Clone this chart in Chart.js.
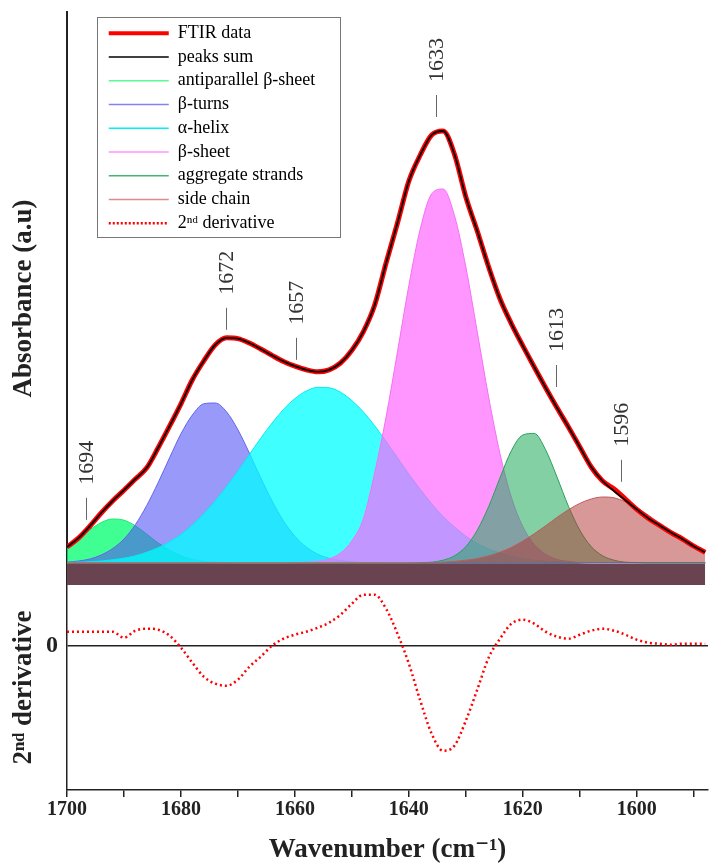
<!DOCTYPE html>
<html>
<head>
<meta charset="utf-8">
<script src="https://cdn.jsdelivr.net/npm/chart.js@4.4.1/dist/chart.umd.min.js"></script>
<style>
  body { margin: 0; background: #fff; }
  #wrap { position: relative; width: 718px; height: 868px; }
  #top { position: absolute; left: 0; top: 0; }
  #bottom { position: absolute; left: 0; top: 585px; }
</style>
</head>
<body>
<div id="wrap">
  <canvas id="top" width="718" height="585"></canvas>
  <canvas id="bottom" width="718" height="283"></canvas>
</div>
<script>
const serif = '"Liberation Serif", "DejaVu Serif", serif';
Chart.defaults.font.family = serif;
Chart.defaults.color = '#222';

// wavenumber grid (cm-1)
const wavenumbers = [1700,1698,1696,1694,1692,1690,1688,1686,1684,1682,1680,1678,1676,1674,1672,1670,1668,1666,1664,1662,
  1660,1658,1656,1654,1652,1650,1648,1646,1644,1642,1640,1638,1636,1634,1632,1630,1628,1626,1624,1622,
  1620,1618,1616,1614,1612,1610,1608,1606,1604,1602,1600,1598,1596,1594,1592,1590,1588];

// absorbance (a.u.)
const ftirData = [.040,.062,.092,.125,.155,.182,.210,.238,.288,.342,.398,.458,.505,.545,.563,.561,.550,.535,.519,.504,
  .492,.483,.478,.483,.500,.532,.578,.645,.750,.850,.955,1.020,1.070,1.080,1.022,.915,.830,.740,.660,.598,
  .543,.490,.438,.388,.340,.290,.240,.205,.185,.160,.134,.112,.094,.076,.060,.042,.027];
const peaksSum = [.040,.062,.092,.125,.155,.182,.210,.238,.288,.342,.398,.458,.505,.545,.563,.561,.550,.535,.519,.504,
  .492,.483,.478,.483,.500,.532,.578,.645,.750,.850,.955,1.020,1.070,1.080,1.022,.915,.830,.740,.660,.598,
  .543,.490,.438,.388,.340,.290,.240,.205,.180,.157,.134,.112,.094,.076,.060,.042,.027];
const antiparallel = [.040,.061,.083,.101,.110,.107,.093,.072,.050,.032,.018,.009,.004,.002,.001,0,0,0,0,0,
  0,0,0,0,0,0,0,0,0,0,0,0,0,0,0,0,0,0,0,0,
  0,0,0,0,0,0,0,0,0,0,0,0,0,0,0,0,0];
const betaTurns = [.002,.005,.010,.020,.036,.060,.096,.144,.201,.263,.323,.370,.398,.400,.378,.333,.275,.213,.155,.105,
  .067,.040,.022,.012,.006,.003,.001,.001,0,0,0,0,0,0,0,0,0,0,0,0,
  0,0,0,0,0,0,0,0,0,0,0,0,0,0,0,0,0];
const alphaHelix = [.001,.002,.003,.005,.008,.012,.018,.027,.038,.053,.071,.095,.123,.155,.191,.230,.271,.312,.350,.384,
  .411,.430,.439,.438,.427,.406,.378,.343,.304,.263,.222,.184,.148,.116,.090,.067,.049,.035,.025,.017,
  .011,.007,.005,.003,.002,.001,0,0,0,0,0,0,0,0,0,0,0];
const betaSheet = [0,0,0,0,0,0,0,0,0,0,0,0,0,0,0,0,0,0,0,0,
  .001,.002,.004,.010,.025,.055,.110,.225,.365,.528,.694,.835,.923,.935,.869,.740,.578,.415,.273,.164,
  .091,.046,.022,.009,.004,.001,0,0,0,0,0,0,0,0,0,0,0];
const aggregate = [0,0,0,0,0,0,0,0,0,0,0,0,0,0,0,0,0,0,0,0,
  0,0,0,0,0,0,0,0,0,0,0,.001,.002,.007,.018,.041,.082,.141,.213,.281,
  .320,.324,.283,.215,.142,.082,.041,.018,.007,.002,.001,0,0,0,0,0,0];
const sideChain = [0,0,0,0,0,0,0,0,0,0,0,0,0,0,0,0,0,0,0,0,
  0,0,0,0,0,0,0,0,0,0,0,0,.001,.002,.004,.007,.011,.018,.027,.039,
  .055,.073,.093,.114,.133,.149,.160,.165,.163,.153,.138,.120,.099,.079,.060,.043,.029];
const baseline = wavenumbers.map(() => 0);

// second derivative (a.u.)
const derivative = [.14,.14,.14,.14,.14,.08,.15,.17,.16,.10,-.02,-.17,-.31,-.38,-.40,-.34,-.21,-.11,.00,.07,
  .11,.14,.18,.23,.31,.42,.51,.51,.37,.12,-.18,-.55,-.88,-1.05,-1.00,-.75,-.44,-.12,.07,.22,
  .26,.22,.14,.09,.07,.11,.15,.17,.15,.11,.06,.03,.02,.01,.02,.02,.02];

// peak annotations
const peakLabels = ['1694', '1672', '1657', '1633', '1613', '1596'];
const peakLabelAt = [1696.6, 1672.1, 1659.8, 1635.3, 1614.2, 1602.7];
const peakLabelBase = [0.108, 0.583, 0.508, 1.115, 0.440, 0.203];

function pts(vals) {
  return vals.map((v, i) => ({ x: wavenumbers[i], y: v }));
}

function band(label, values, line, fillColor, legendColor, order) {
  return {
    label: label, data: pts(values), borderColor: line, backgroundColor: fillColor,
    borderWidth: 1, fill: 'origin', order: order, legendColor: legendColor
  };
}

const topSets = [
  { label: 'FTIR data', data: pts(ftirData), borderColor: '#ff0000', borderWidth: 5, fill: false, order: 1, legendWidth: 4 },
  { label: 'peaks sum', data: pts(peaksSum), borderColor: '#000000', borderWidth: 1.8, fill: false, order: 0, legendWidth: 1.5 },
  band('antiparallel β-sheet', antiparallel, 'rgb(30,230,120)', 'rgba(0,255,110,0.75)', 'rgb(90,250,150)', 7),
  band('β-turns', betaTurns, 'rgb(100,100,235)', 'rgba(80,80,245,0.58)', 'rgb(130,130,240)', 6),
  band('α-helix', alphaHelix, 'rgb(0,235,240)', 'rgba(0,255,255,0.75)', 'rgb(0,240,250)', 5),
  band('β-sheet', betaSheet, 'rgb(245,110,245)', 'rgba(255,100,255,0.68)', 'rgb(255,150,255)', 4),
  band('aggregate strands', aggregate, 'rgb(40,160,90)', 'rgba(30,170,90,0.55)', 'rgb(70,180,115)', 3),
  band('side chain', sideChain, 'rgb(190,90,90)', 'rgba(180,50,50,0.5)', 'rgb(220,140,140)', 2),
  { label: 'baseline', data: pts(baseline), borderColor: 'rgb(125,40,40)', borderWidth: 1.5, backgroundColor: '#694450', fill: 'start', order: 8 }
];

const legendFrame = {
  id: 'legendFrame',
  afterLayout(chart) {
    const lg = chart.legend;
    lg.left = chart.chartArea.left + 36;
    lg.top = chart.chartArea.top + 6.5;
  },
  afterDraw(chart) {
    const lg = chart.legend, ctx = chart.ctx;
    ctx.save();
    ctx.strokeStyle = '#777';
    ctx.lineWidth = 1;
    ctx.strokeRect(Math.round(lg.left - 6.5) + 0.5, Math.round(lg.top - 1.5) + 0.5, 243, 220);
    ctx.restore();
  }
};

const peakMarks = {
  id: 'peakMarks',
  afterDatasetsDraw(chart) {
    const ctx = chart.ctx, x = chart.scales.x, y = chart.scales.y;
    ctx.save();
    ctx.strokeStyle = '#666';
    ctx.lineWidth = 1;
    ctx.fillStyle = '#333';
    ctx.font = '22px ' + serif;
    peakLabels.forEach((t, i) => {
      const px = Math.round(x.getPixelForValue(peakLabelAt[i])) + 0.5;
      const py = y.getPixelForValue(peakLabelBase[i]);
      ctx.beginPath();
      ctx.moveTo(px, py);
      ctx.lineTo(px, py - 22);
      ctx.stroke();
      ctx.save();
      ctx.translate(px, py - 35);
      ctx.rotate(-Math.PI / 2);
      ctx.textAlign = 'left';
      ctx.textBaseline = 'middle';
      ctx.fillText(t, 0, 1);
      ctx.restore();
    });
    ctx.restore();
  }
};

new Chart(document.getElementById('top'), {
  type: 'line',
  data: { datasets: topSets },
  options: {
    responsive: false,
    animation: false,
    events: [],
    layout: { padding: { top: 12, right: 10 } },
    elements: { point: { radius: 0 }, line: { cubicInterpolationMode: 'monotone' } },
    scales: {
      x: { type: 'linear', reverse: true, min: 1587.5, max: 1700, display: false },
      y: {
        min: -0.055, max: 1.3775,
        ticks: { display: false },
        grid: { display: false },
        border: { color: '#222', width: 2 },
        title: { display: true, text: 'Absorbance (a.u)', font: { size: 27, weight: 'bold' }, color: '#222', padding: { top: 8 } },
        afterFit(s) { s.width = 67; s.paddingTop = 0; s.paddingBottom = 0; }
      }
    },
    plugins: {
      tooltip: { enabled: false },
      legend: {
        position: 'chartArea',
        align: 'start',
        labels: {
          usePointStyle: true,
          pointStyleWidth: 60,
          padding: 5.75,
          font: { size: 18 },
          color: '#222',
          generateLabels(chart) {
            const items = chart.data.datasets
              .map((d, i) => ({ d: d, i: i }))
              .filter(o => o.d.label !== 'baseline')
              .map(o => ({
                text: o.d.label,
                strokeStyle: o.d.legendColor || o.d.borderColor,
                fillStyle: 'transparent',
                lineWidth: o.d.legendWidth || 1.5,
                pointStyle: 'line',
                hidden: false,
                datasetIndex: o.i
              }));
            items.push({ text: '2ⁿᵈ derivative', strokeStyle: '#ff0000', fillStyle: 'transparent', lineWidth: 2.5, lineDash: [2, 2], pointStyle: 'line', hidden: false });
            return items;
          }
        }
      }
    }
  },
  plugins: [legendFrame, peakMarks]
});

new Chart(document.getElementById('bottom'), {
  type: 'line',
  data: {
    datasets: [{
      label: '2ⁿᵈ derivative', data: pts(derivative), borderColor: '#ff0000', borderWidth: 2.5,
      borderDash: [2, 3], pointRadius: 0, fill: false, cubicInterpolationMode: 'monotone'
    }]
  },
  options: {
    responsive: false,
    animation: false,
    events: [],
    layout: { padding: { right: 10 } },
    plugins: { legend: { display: false }, tooltip: { enabled: false } },
    scales: {
      x: {
        type: 'linear', reverse: true, min: 1587.5, max: 1700,
        ticks: {
          stepSize: 10, includeBounds: false, autoSkip: false, maxRotation: 0, padding: 1,
          font: { size: 20, weight: 'bold' }, color: '#222',
          callback: v => (v % 20 === 0 ? v : '')
        },
        grid: { drawOnChartArea: false, tickLength: 7, color: '#222', lineWidth: 1.5 },
        border: { color: '#222', width: 1.5 },
        title: { display: true, text: 'Wavenumber (cm⁻¹)', font: { size: 27, weight: 'bold' }, color: '#222', padding: { top: 0, bottom: 2 } },
        afterFit(s) { s.height = 78; s.paddingLeft = 0; s.paddingRight = 0; }
      },
      y: {
        min: -1.443, max: 0.607,
        afterBuildTicks(s) { s.ticks = [{ value: 0 }]; },
        ticks: { font: { size: 24, weight: 'bold' }, color: '#222', padding: 9 },
        grid: { drawTicks: false, color: '#222', lineWidth: 1.5 },
        border: { color: '#222', width: 1.5 },
        title: { display: true, text: '2ⁿᵈ derivative', font: { size: 27, weight: 'bold' }, color: '#222', padding: { top: 8 } },
        afterFit(s) { s.width = 67; s.paddingTop = 0; s.paddingBottom = 0; }
      }
    }
  }
});
</script>
</body>
</html>
